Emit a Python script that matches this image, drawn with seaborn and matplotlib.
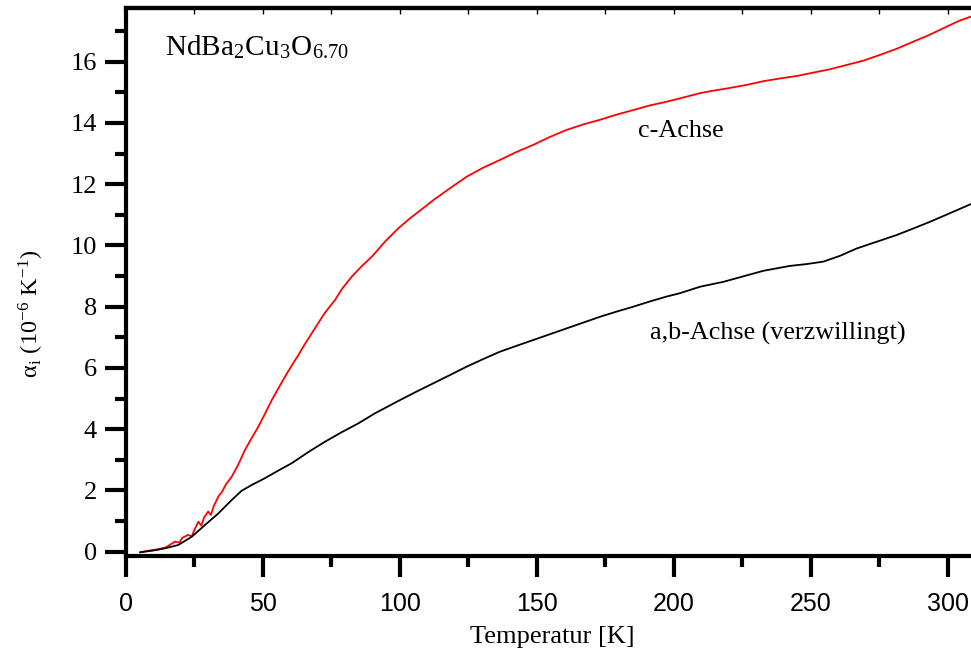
import numpy as np
import pandas as pd
import matplotlib
matplotlib.use("Agg")
import matplotlib.pyplot as plt
import seaborn as sns

# c-axis (red)
c_T = [5.1, 8.0, 11.8, 14.5, 17.9, 19.5, 20.5, 22.7, 24.0, 25.0, 26.4, 27.5, 28.5, 30.0, 31.0, 32.0,
       33.7, 35.0, 36.5, 38.6, 41.0, 43.4, 45.8, 48.3, 50.7, 53.2, 55.6, 58.0, 60.5, 62.9, 65.3,
       67.8, 70.2, 72.6, 76.3, 79.0, 82.4, 86.0, 89.7, 94.5, 99.4, 103.6, 109.1, 112.2, 118.0,
       124.3, 130.0, 136.5, 142.5, 148.6, 154.7, 160.8, 166.9, 173.0, 179.1, 185.2, 191.2, 197.3,
       202.2, 209.5, 214.3, 220.4, 226.5, 232.6, 238.7, 244.8, 250.8, 256.9, 263.0, 269.1, 275.2,
       281.3, 287.3, 293.4, 299.5, 304.0, 308.4]
c_alpha = [-0.02, 0.03, 0.08, 0.14, 0.33, 0.30, 0.45, 0.55, 0.50, 0.72, 0.98, 0.85, 1.12, 1.31, 1.20, 1.48,
           1.80, 1.95, 2.20, 2.45, 2.85, 3.32, 3.70, 4.08, 4.50, 4.95, 5.33, 5.71, 6.08, 6.42, 6.78,
           7.13, 7.47, 7.80, 8.22, 8.60, 8.98, 9.32, 9.63, 10.12, 10.56, 10.88, 11.26, 11.48, 11.85,
           12.24, 12.52, 12.79, 13.05, 13.28, 13.54, 13.77, 13.95, 14.10, 14.27, 14.42, 14.57, 14.69,
           14.80, 14.97, 15.05, 15.14, 15.24, 15.36, 15.45, 15.53, 15.64, 15.75, 15.89, 16.03, 16.22,
           16.42, 16.65, 16.88, 17.14, 17.33, 17.47]

# a,b-axis (black, twinned)
ab_T = [5.1, 10.0, 14.2, 19.1, 24.0, 28.8, 33.7, 38.6, 42.2, 45.9, 50.7, 55.6, 60.5, 66.5, 72.6,
        78.7, 84.8, 90.9, 100.0, 106.1, 112.2, 118.3, 124.3, 130.4, 136.5, 142.5, 148.6, 154.7,
        160.8, 166.9, 173.0, 179.1, 185.2, 191.2, 197.3, 202.2, 209.5, 218.0, 225.3, 232.6, 242.3,
        248.4, 254.5, 260.6, 266.7, 274.0, 281.3, 287.3, 293.4, 300.7, 308.4]
ab_alpha = [-0.02, 0.04, 0.11, 0.22, 0.49, 0.87, 1.25, 1.69, 1.99, 2.18, 2.40, 2.65, 2.89, 3.25, 3.59,
            3.90, 4.19, 4.52, 4.95, 5.23, 5.50, 5.77, 6.04, 6.29, 6.53, 6.72, 6.91, 7.10,
            7.29, 7.48, 7.67, 7.84, 8.00, 8.17, 8.33, 8.44, 8.65, 8.81, 8.99, 9.17, 9.33,
            9.39, 9.47, 9.66, 9.90, 10.12, 10.34, 10.55, 10.77, 11.05, 11.35]

labels = ["c-Achse", "a,b-Achse (verzwillingt)"]

df = pd.concat([
    pd.DataFrame({"T": c_T, "alpha": c_alpha, "series": labels[0]}),
    pd.DataFrame({"T": ab_T, "alpha": ab_alpha, "series": labels[1]}),
])

sns.set_style("ticks")
plt.rcParams["font.family"] = ["Liberation Serif", "DejaVu Serif"]
plt.rcParams["mathtext.fontset"] = "stix"
for k in ["text.color", "axes.labelcolor", "xtick.color", "ytick.color", "axes.edgecolor"]:
    plt.rcParams[k] = "black"

fig = plt.figure(figsize=(9.71, 6.55), dpi=100)
ax = fig.add_axes([126 / 971, (655 - 556) / 655, (971 - 126) / 971, (556 - 8) / 655])

sns.lineplot(data=df, x="T", y="alpha", hue="series", sort=False,
             palette={labels[0]: "#ff0000", labels[1]: "#000000"},
             linewidth=1.3, legend=False, ax=ax, estimator=None)

ax.set_xlim(0, 308.4)
ax.set_ylim(-0.14, 17.75)
ax.set_xticks(np.arange(0, 301, 50))
ax.set_xticks(np.arange(25, 301, 50), minor=True)
ax.set_yticks(np.arange(0, 17, 2))
ax.set_yticks(np.arange(1, 18, 2), minor=True)

for s in ["left", "bottom", "top"]:
    ax.spines[s].set_linewidth(3)
    ax.spines[s].set_color("black")
ax.spines["right"].set_visible(False)

ax.tick_params(axis="both", which="major", direction="out", length=15, width=3, color="black")
ax.tick_params(axis="both", which="minor", direction="out", length=8, width=3, color="black")
ax.tick_params(axis="y", labelsize=19, pad=6)
ax.tick_params(axis="x", labelsize=18, pad=11)
for lab in ax.get_xticklabels():
    lab.set_fontfamily(["Liberation Sans", "DejaVu Sans"])

sec = ax.secondary_xaxis("top")
sec.set_xticks(np.arange(0, 309, 25))
sec.tick_params(direction="in", length=4, width=1, labeltop=False, color="black")
sec.spines["top"].set_linewidth(3)
sec.spines["top"].set_color("black")

ax.set_xlabel("Temperatur [K]", fontsize=19)
ax.xaxis.set_label_coords(0.505, -0.128)
ax.set_ylabel("α$_\\mathregular{i}$ (10$^\\mathregular{-6}$ K$^\\mathregular{-1}$)", fontsize=17.5)
ax.yaxis.set_label_coords(-0.095, 0.443)

ax.text(14.2, 16.2, "NdBa$_\\mathregular{2}$Cu$_\\mathregular{3}$O$_\\mathregular{6.70}$",
        fontsize=21, va="baseline", ha="left")
ax.text(186.9, 13.73, labels[0], fontsize=18.8, va="center", ha="left")
ax.text(191.2, 7.14, labels[1], fontsize=18.8, va="center", ha="left")

fig.savefig("out.png", dpi=100)
